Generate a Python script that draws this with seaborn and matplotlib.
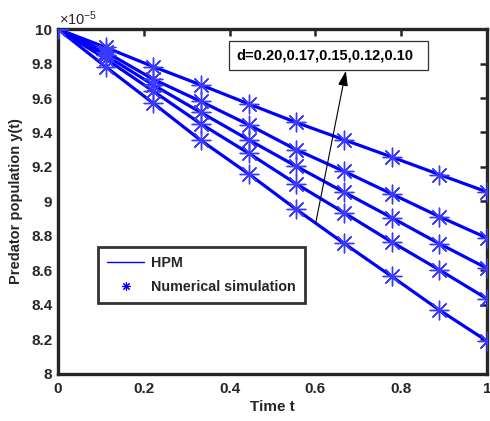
import numpy as np
import pandas as pd
import matplotlib
matplotlib.use("Agg")
import matplotlib.pyplot as plt
import seaborn as sns
from matplotlib.lines import Line2D
from matplotlib.patches import Rectangle

# time grid and predator population (units of 1e-5), one series per d
t = [0, 1/9, 2/9, 3/9, 4/9, 5/9, 6/9, 7/9, 8/9, 1]
d_values = ["0.10", "0.12", "0.15", "0.17", "0.20"]
y_d010 = [10, 9.894, 9.782, 9.676, 9.566, 9.458, 9.358, 9.258, 9.156, 9.055]
y_d012 = [10, 9.868, 9.709, 9.580, 9.445, 9.300, 9.175, 9.044, 8.912, 8.788]
y_d015 = [10, 9.848, 9.676, 9.516, 9.358, 9.204, 9.054, 8.906, 8.755, 8.612]
y_d017 = [10, 9.828, 9.640, 9.450, 9.280, 9.102, 8.935, 8.765, 8.603, 8.435]
y_d020 = [10, 9.782, 9.570, 9.354, 9.160, 8.954, 8.757, 8.565, 8.370, 8.190]

series = [y_d010, y_d012, y_d015, y_d017, y_d020]
df = pd.concat([pd.DataFrame({"t": t, "y": ys, "d": d})
                for d, ys in zip(d_values, series)], ignore_index=True)

sns.set_style("white")
plt.rcParams["font.family"] = ["Liberation Sans", "DejaVu Sans"]
plt.rcParams["mathtext.fontset"] = "custom"
plt.rcParams["mathtext.rm"] = "Liberation Sans"
plt.rcParams["mathtext.it"] = "Liberation Sans"

fig = plt.figure(figsize=(4.9, 4.21), dpi=100)
ax = fig.add_axes([0.118, 0.112, 0.876, 0.819])

blue = "#0000ff"
dark = "#262626"
sns.lineplot(data=df, x="t", y="y", units="d", estimator=None,
             color=blue, lw=2.3, ax=ax, legend=False)
sns.scatterplot(data=df, x="t", y="y", marker=(8, 2, 0), s=180,
                color="#3a3aff", edgecolor="#3a3aff", linewidth=1.0,
                ax=ax, legend=False, zorder=3)

ax.set_xlim(0, 1)
ax.set_ylim(8, 10)
ax.set_xticks([0, 0.2, 0.4, 0.6, 0.8, 1])
ax.set_xticklabels(["0", "0.2", "0.4", "0.6", "0.8", "1"])
ax.set_yticks([8, 8.2, 8.4, 8.6, 8.8, 9, 9.2, 9.4, 9.6, 9.8, 10])
ax.set_yticklabels(["8", "8.2", "8.4", "8.6", "8.8", "9", "9.2", "9.4",
                    "9.6", "9.8", "10"])
ax.tick_params(direction="in", length=5, width=1.8, labelsize=11,
               top=True, right=True, colors=dark, labelcolor=dark)
ax.tick_params(axis="y", pad=4)
ax.tick_params(axis="x", pad=6)
for lbl in ax.get_xticklabels() + ax.get_yticklabels():
    lbl.set_fontweight("bold")
for sp in ax.spines.values():
    sp.set_linewidth(2.4)
    sp.set_color(dark)

ax.set_xlabel("Time t", fontsize=11, fontweight="bold", color=dark,
              labelpad=3)
ax.set_ylabel("Predator population y(t)", fontsize=10.5, fontweight="bold",
              color=dark, labelpad=6)

ax.text(0.003, 1.004, r"$\times10^{-5}$", transform=ax.transAxes,
        fontsize=10.5, ha="left", va="bottom", color=dark)

# annotation box and arrow
ax.add_patch(Rectangle((0.399, 9.762), 0.463, 0.170, fill=True,
                       fc="white", ec="#333333", lw=0.9, zorder=4))
ax.text(0.417, 9.847, "d=0.20,0.17,0.15,0.12,0.10", fontsize=10.5,
        fontweight="bold", ha="left", va="center", color="black", zorder=5)
ax.annotate("", xy=(0.671, 9.757), xytext=(0.601, 8.877),
            arrowprops=dict(arrowstyle="-|>,head_length=0.9,head_width=0.3",
                            color="black", lw=0.8, shrinkA=0, shrinkB=0))

handles = [Line2D([], [], color=blue, lw=1.0),
           Line2D([], [], color=blue, ls="none", marker=(8, 2, 0),
                  markersize=6, markeredgewidth=0.8)]
leg = ax.legend(handles, ["HPM", "Numerical simulation"],
                loc="lower left", bbox_to_anchor=(0.093, 0.206),
                borderaxespad=0, frameon=True, fancybox=False,
                handlelength=2.6, handletextpad=0.5, borderpad=0.65,
                labelspacing=0.65, prop={"weight": "bold", "size": 10.3})
leg.get_frame().set_edgecolor("black")
leg.get_frame().set_linewidth(2.0)

fig.savefig("out.png", dpi=100)
